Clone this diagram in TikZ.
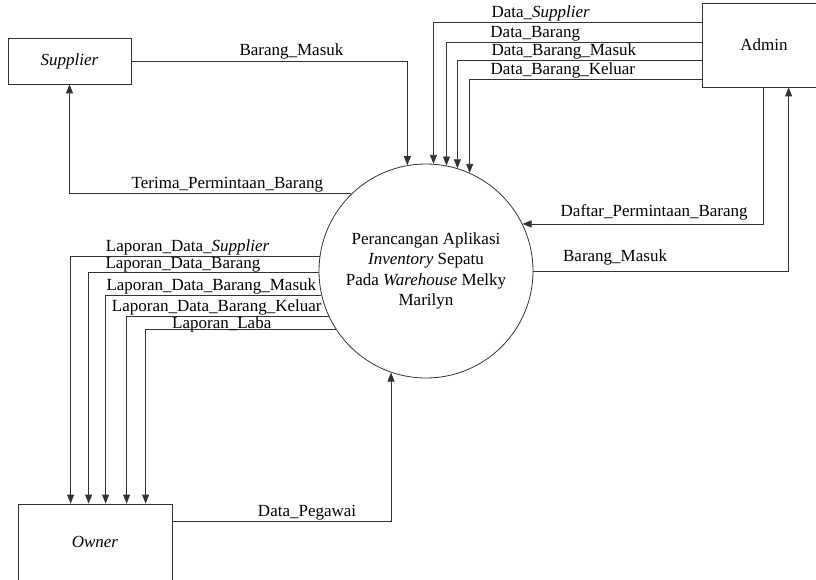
\documentclass[tikz,border=0pt]{standalone}
\usepackage{fontspec}
\setmainfont{Liberation Serif}
\usepackage{tikz}
\usetikzlibrary{arrows.meta, calc}
\definecolor{LineGray}{HTML}{333333}

\begin{document}
\begin{tikzpicture}[
  x=1pt, y=-1pt,
  every node/.style={font=\fontsize{17}{20.5}\selectfont},
  entity/.style={rectangle, draw=LineGray, line width=0.8pt, inner sep=0pt},
  process/.style={circle, draw=LineGray, line width=0.8pt, minimum size=214pt, align=center, inner sep=0pt},
  flow/.style={-{Triangle[length=9pt, width=7pt]}, line width=0.8pt, LineGray},
  label/.style={inner sep=1pt, text=black}
]
\useasboundingbox (0,0) rectangle (816,580);

\node[entity, minimum width=123pt, minimum height=46pt] (supplier) at (69.5,61) {\textit{Supplier}};
\node[entity, minimum width=124pt, minimum height=84pt] (admin) at (764,45) {Admin};
\node[entity, minimum width=154pt, minimum height=76pt] (owner) at (95,542) {\textit{Owner}};
\node[process] (proc) at (426,271) {Perancangan Aplikasi\\ \textit{Inventory} Sepatu\\ Pada \textit{Warehouse} Melky\\ Marilyn};

% supplier
\draw[flow] (supplier.east) -| node[label, pos=0.29, above] {Barang\_Masuk} (proc.100);
\draw[flow] (proc.134) -| node[label, pos=0.22, above] {Terima\_Permintaan\_Barang} (supplier.south);

% admin
\draw[flow] ($(admin.north west)+(0,20)$) -| node[label, pos=0.30, above] {Data\_\textit{Supplier}} (proc.86.3);
\draw[flow] ($(admin.north west)+(0,40)$) -| node[label, pos=0.326, above] {Data\_Barang} (proc.79.2);
\draw[flow] ($(admin.north west)+(0,58)$) -| node[label, pos=0.282, above] {Data\_Barang\_Masuk} (proc.73.2);
\draw[flow] ($(admin.north west)+(0,77)$) -| node[label, pos=0.299, above] {Data\_Barang\_Keluar} (proc.66.9);
\draw[flow] ($(admin.south west)+(62,0)$) |- node[label, pos=0.727, above=2pt] {Daftar\_Permintaan\_Barang} (proc.26);
\draw[flow] (proc.east) -| node[label, pos=0.16, above=4pt] {Barang\_Masuk} ($(admin.south west)+(87,0)$);

% owner
\draw[flow] (proc.172.5) -| node[label, pos=0.265, above] {Laporan\_Data\_\textit{Supplier}} ($(owner.north west)+(53,0)$);
\draw[flow] (proc.181.6) -| node[label, pos=0.295, above=-1pt] {Laporan\_Data\_Barang} ($(owner.north west)+(71,0)$);
\draw[flow] (proc.193.5) -| node[label, pos=0.255, above] {Laporan\_Data\_Barang\_Masuk} ($(owner.north west)+(88,0)$);
\draw[flow] (proc.205.5) -| node[label, pos=0.277, above] {Laporan\_Data\_Barang\_Keluar} ($(owner.north west)+(109,0)$);
\draw[flow] (proc.213.4) -| node[label, pos=0.30, above=-4pt] {Laporan\_Laba} ($(owner.north west)+(128,0)$);
\draw[flow] ($(owner.north east)+(0,18)$) -| node[label, pos=0.308, above] {Data\_Pegawai} (proc.251.5);

\end{tikzpicture}
\end{document}
